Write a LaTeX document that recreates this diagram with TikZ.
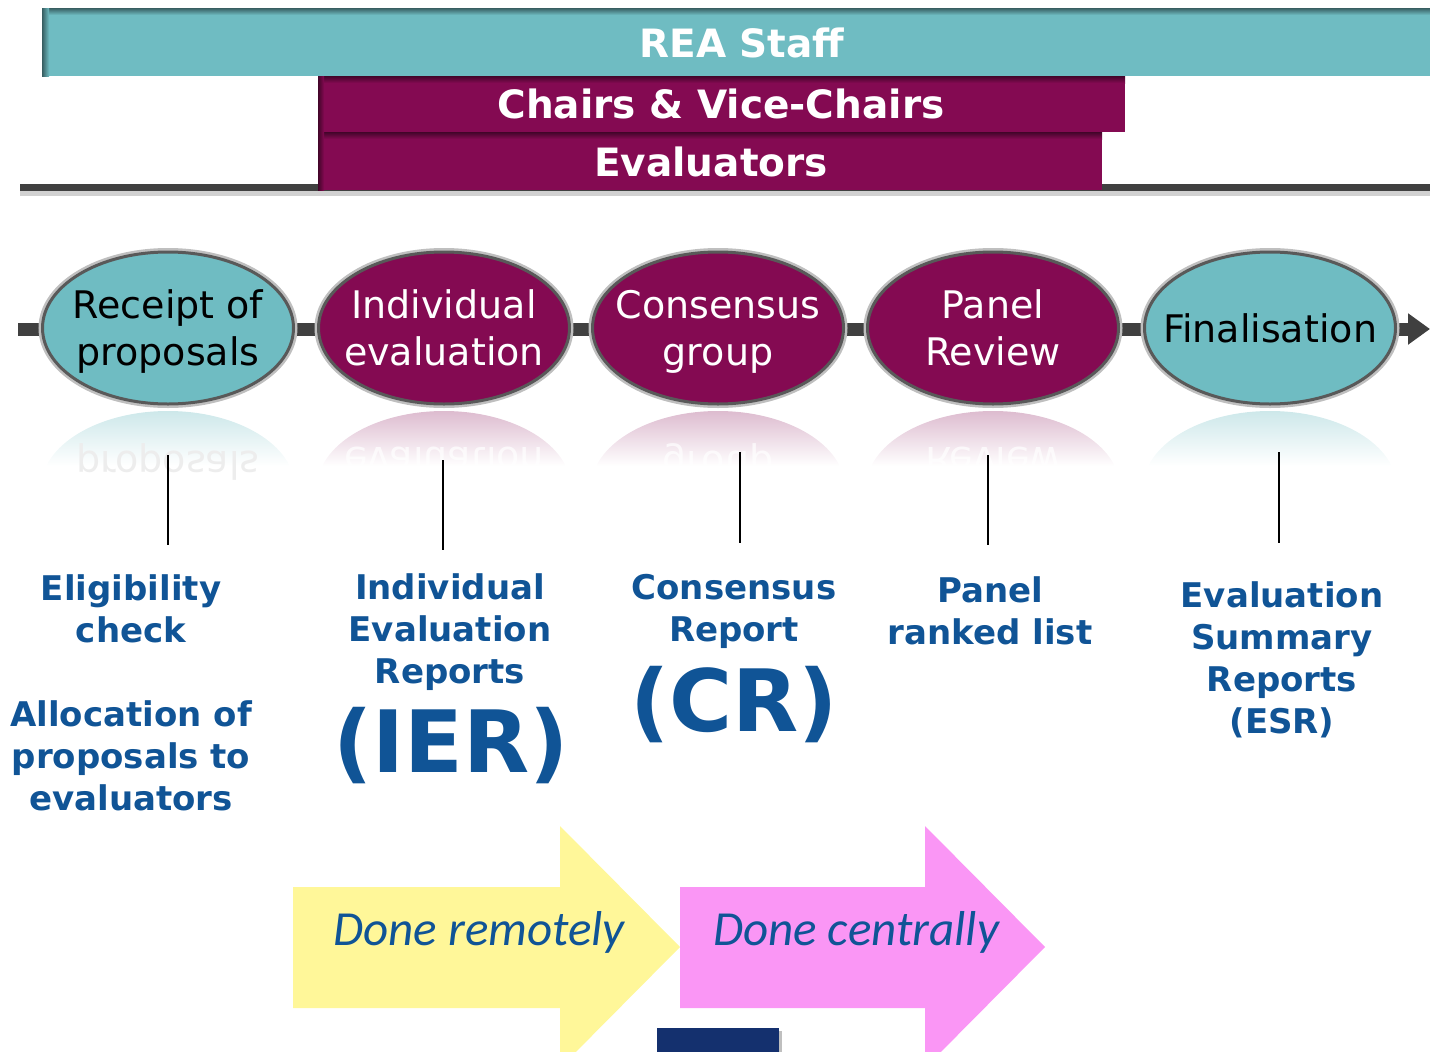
\documentclass[tikz,border=0pt]{standalone}
\usepackage{fontspec}
\setmainfont{DejaVu Sans}
\newfontfamily\carlito{Carlito}
\usetikzlibrary{shapes.geometric,arrows.meta}
\definecolor{reateal}{RGB}{111,188,194}
\definecolor{reapurple}{RGB}{132,10,82}
\definecolor{reablue}{RGB}{16,84,150}
\definecolor{reayellow}{RGB}{255,247,153}
\definecolor{reapink}{RGB}{250,150,245}
\definecolor{reanavy}{RGB}{20,48,110}
\begin{document}
\begin{tikzpicture}[x=1pt,y=-1pt,
   bar/.style={text=white,font=\fontsize{39}{44}\selectfont\bfseries},
   stage/.style={ellipse,minimum width=251pt,minimum height=152pt,inner sep=0pt,
      draw=black!65,line width=3pt,preaction={draw=black!25,line width=8pt}},
   stagetext/.style={align=center,font=\fontsize{38}{47}\selectfont},
   mirror/.style={yscale=-1,font=\fontsize{38}{47}\selectfont},
   result/.style={text=reablue,align=center,font=\fontsize{34}{42}\selectfont\bfseries},
   big/.style={text=reablue,font=\fontsize{86}{90}\selectfont\bfseries},
   done/.style={text=reablue,font=\carlito\itshape\fontsize{49}{56}\selectfont}]
   \useasboundingbox (0,0) rectangle (1430,1052);
   %line under the bars
   \draw[black!18,line width=10pt] (20,191) -- (1430,191);
   \draw[black!75,line width=7pt] (20,187) -- (1430,187);
   %staff bars
   \fill[reateal] (42,8) rectangle (1430,76);
   \shade[top color=reateal!50!black,bottom color=reateal] (42,8) rectangle (1430,15);
   \shade[left color=reateal!50!black,right color=reateal] (42,8) rectangle (49,76);
   \fill[reapurple] (318,76) rectangle (1125,132);
   \shade[top color=reapurple!50!black,bottom color=reapurple] (318,76) rectangle (1125,83);
   \fill[reapurple] (318,132) rectangle (1102,190);
   \shade[top color=reapurple!50!black,bottom color=reapurple] (318,132) rectangle (1102,139);
   \shade[left color=reapurple!50!black,right color=reapurple] (318,76) rectangle (324,190);
   \node[bar] (staff) at (742,43) {REA Staff};
   \node[bar] (chairs) at (721,104) {Chairs \& Vice-Chairs};
   \node[bar] (evals) at (711,162) {Evaluators};
   %process line
   \coordinate (pstart) at (18,329);
   \coordinate (pend) at (1430,329);
   \draw[black!75,line width=13pt,-{Triangle[length=22pt,width=30pt]}] (pstart) -- (pend);
   %stages
   \node[stage,fill=reateal] (receipt) at (168,328) {};
   \node[stage,fill=reapurple] (indiv) at (444,328) {};
   \node[stage,fill=reapurple] (consensus) at (718,328) {};
   \node[stage,fill=reapurple] (panel) at (993,328) {};
   \node[stage,fill=reateal] (final) at (1270,328) {};
   \node[stagetext,text=black] at ([yshift=-4]receipt) {Receipt of\\proposals};
   \node[stagetext,text=white] at (indiv) {Individual\\evaluation};
   \node[stagetext,text=white] at ([yshift=-4]consensus) {Consensus\\group};
   \node[stagetext,text=white] at (panel) {Panel\\Review};
   \node[stagetext,text=black] at (final) {Finalisation};
   %reflections
   \begin{scope}
      \clip (168,488) ellipse [x radius=127,y radius=77];
      \shade[top color=reateal!35,bottom color=white] (38,410) rectangle (298,466);
      \node[mirror,text=black!7] at (168,462) {proposals};
   \end{scope}
   \begin{scope}
      \clip (444,488) ellipse [x radius=127,y radius=77];
      \shade[top color=reapurple!28,bottom color=white] (314,410) rectangle (574,466);
      \node[mirror,text=white,opacity=.7] at (444,462) {evaluation};
   \end{scope}
   \begin{scope}
      \clip (718,488) ellipse [x radius=127,y radius=77];
      \shade[top color=reapurple!28,bottom color=white] (588,410) rectangle (848,466);
      \node[mirror,text=white,opacity=.7] at (718,458) {group};
   \end{scope}
   \begin{scope}
      \clip (993,488) ellipse [x radius=127,y radius=77];
      \shade[top color=reapurple!28,bottom color=white] (863,410) rectangle (1123,466);
      \node[mirror,text=white,opacity=.7] at (993,462) {Review};
   \end{scope}
   \begin{scope}
      \clip (1270,488) ellipse [x radius=127,y radius=77];
      \shade[top color=reateal!35,bottom color=white] (1140,410) rectangle (1400,466);
   \end{scope}
   %outputs
   \node[result] (elig) at (131,609) {Eligibility\\check};
   \node[result] (alloc) at (131,756) {Allocation of\\proposals to\\evaluators};
   \node[result] (ier) at (450,632) {Individual\\Evaluation\\Reports};
   \node[big] (iershort) at (451,746) {(IER)};
   \node[result] (cr) at (734,611) {Consensus\\Report};
   \node[big] (crshort) at (734,705) {(CR)};
   \node[result] (ranked) at (990,611) {Panel\\ranked list};
   \node[result] (esr) at (1282,660) {Evaluation\\Summary\\Reports\\(ESR)};
   %ticks
   \coordinate (t1) at (168,455); \coordinate (b1) at (168,545);
   \coordinate (t2) at (443,460); \coordinate (b2) at (443,550);
   \coordinate (t3) at (740,452); \coordinate (b3) at (740,543);
   \coordinate (t4) at (988,455); \coordinate (b4) at (988,545);
   \coordinate (t5) at (1279,452); \coordinate (b5) at (1279,543);
   \draw[line width=1.5pt] (t1) -- (b1);
   \draw[line width=1.5pt] (t2) -- (b2);
   \draw[line width=1.5pt] (t3) -- (b3);
   \draw[line width=1.5pt] (t4) -- (b4);
   \draw[line width=1.5pt] (t5) -- (b5);
   %where it is done
   \fill[reayellow] (293,887) -- (560,887) -- (560,826) -- (680,947) -- (560,1068) -- (560,1008) -- (293,1008) -- cycle;
   \fill[reapink] (680,887) -- (925,887) -- (925,826) -- (1045,947) -- (925,1068) -- (925,1008) -- (680,1008) -- cycle;
   \node[done] (remote) at (479,932) {Done remotely};
   \node[done] (central) at (856,932) {Done centrally};
   \fill[black!25] (660,1031) rectangle (782,1060);
   \fill[reanavy] (657,1028) rectangle (779,1060);
\end{tikzpicture}
\end{document}
